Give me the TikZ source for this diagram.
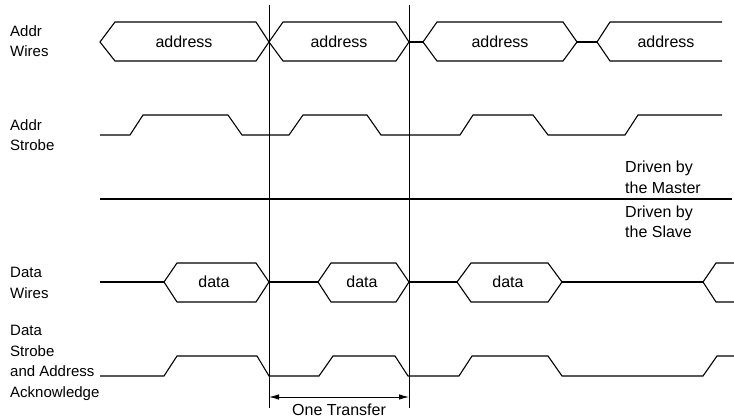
\documentclass[tikz,border=0pt]{standalone}
\usepackage{fontspec}
\setmainfont{Liberation Sans}
\usetikzlibrary{arrows.meta}
\begin{document}
\begin{tikzpicture}[x=1pt,y=-1pt,
  sig/.style={line width=1.1pt, line join=miter},
  grid/.style={line width=0.9pt},
  txt/.style={font=\fontsize{16}{20.5}\selectfont, inner sep=0pt},
  side/.style={font=\fontsize{15}{20.5}\selectfont, inner sep=0pt, anchor=west, align=left},
  dim/.style={line width=0.9pt, {Latex[length=10pt,width=5.5pt]}-{Latex[length=10pt,width=5.5pt]}}]
\useasboundingbox (0,0) rectangle (734,417);
\fill[white] (0,0) rectangle (734,417);

% left labels
\node[side] (lAW) at (10,41) {Addr\\Wires};
\node[side] (lAS) at (10,135) {Addr\\Strobe};
\node[side] (lDW) at (10,283) {Data\\Wires};
\node[side] (lDS) at (10,363) {Data\\Strobe\\and Address\\Acknowledge};
\node[side, font=\fontsize{16}{20.5}\selectfont] (lM) at (625,177.5) {Driven by\\the Master};
\node[side, font=\fontsize{16}{20.5}\selectfont] (lS) at (625,222) {Driven by\\the Slave};

% vertical transfer boundaries
\coordinate (v1t) at (269,5);  \coordinate (v1b) at (269,408);
\coordinate (v2t) at (409,5);  \coordinate (v2b) at (409,408);
\draw[grid] (v1t) -- (v1b);
\draw[grid] (v2t) -- (v2b);

% Addr wires
\draw[sig] (100,42) -- (115,22) -- (256,22) -- (269,42) -- (256,61) -- (115,61) -- cycle;
\draw[sig] (269,42) -- (283,22) -- (396,22) -- (409,42) -- (396,61) -- (283,61) -- cycle;
\draw[sig] (409,42) -- (423,42);
\draw[sig] (423,42) -- (437,22) -- (563,22) -- (577,42) -- (563,61) -- (437,61) -- cycle;
\draw[sig] (577,42) -- (597,42);
\draw[sig] (722,22) -- (610,22) -- (597,42) -- (610,61) -- (722,61);
\node[txt] (a1) at (184,42) {address};
\node[txt] (a2) at (339,42) {address};
\node[txt] (a3) at (500,42) {address};
\node[txt] (a4) at (666,42) {address};

% Addr strobe
\draw[sig] (100,135) -- (130,135) -- (143,115) -- (228,115) -- (242,135) -- (289,135)
  -- (303,115) -- (367,115) -- (381,135) -- (460,135) -- (473,115) -- (533,115)
  -- (548,135) -- (625,135) -- (638,115) -- (722,115);

% master / slave divider
\draw[sig] (100,199) -- (732,199);

% Data wires
\draw[sig] (100,282) -- (164,282);
\draw[sig] (164,282) -- (177,263) -- (256,263) -- (269,282) -- (256,302) -- (177,302) -- cycle;
\draw[sig] (269,282) -- (318,282);
\draw[sig] (318,282) -- (331,263) -- (396,263) -- (409,282) -- (396,302) -- (331,302) -- cycle;
\draw[sig] (409,282) -- (457,282);
\draw[sig] (457,282) -- (471,263) -- (548,263) -- (562,282) -- (548,302) -- (471,302) -- cycle;
\draw[sig] (562,282) -- (703,282);
\draw[sig] (734,263) -- (716,263) -- (703,282) -- (716,302) -- (734,302);
\node[txt] (d1) at (214,282) {data};
\node[txt] (d2) at (362,282) {data};
\node[txt] (d3) at (508,282) {data};

% Data strobe / address acknowledge
\draw[sig] (100,376) -- (164,376) -- (177,356) -- (257,356) -- (269,376) -- (319,376)
  -- (333,356) -- (395,356) -- (408,376) -- (459,376) -- (472,356) -- (548,356)
  -- (562,376) -- (703,376) -- (717,356) -- (734,356);

% one transfer
\coordinate (t1) at (269,397);
\coordinate (t2) at (409,397);
\draw[dim] (t1) -- (t2);
\node[txt, anchor=base] (ot) at (339,415) {One Transfer};
\end{tikzpicture}
\end{document}
